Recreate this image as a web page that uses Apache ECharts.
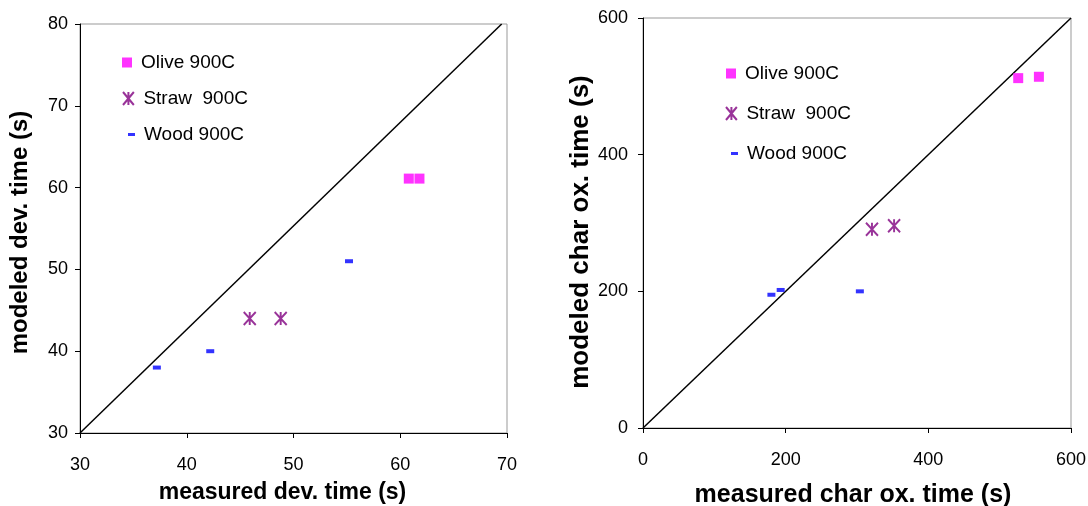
<!DOCTYPE html>
<html><head><meta charset="utf-8">
<script src="https://cdn.jsdelivr.net/npm/echarts@6/dist/echarts.min.js"></script>
<style>html,body{margin:0;padding:0;background:#fff}#c{width:1088px;height:506px}</style>
</head><body><div id="c"></div>
<script>
// Left chart: devolatilization time
const devOlive = [[60.8, 61.1], [61.8, 61.1]];
const devStraw = [[45.9, 44.0], [48.8, 44.0]];
const devWood  = [[37.2, 38.0], [42.2, 40.0], [55.2, 51.0]];
const devLine  = [[30, 30], [69.5, 80]];
const devXTicks = [30, 40, 50, 60, 70];
const devYTicks = [30, 40, 50, 60, 70, 80];
// Right chart: char oxidation time
const charOlive = [[526, 512], [555, 514]];
const charStraw = [[321, 291], [352, 296]];
const charWood  = [[180, 195], [193, 202], [304, 200]];
const charLine  = [[0, 0], [600, 600]];
const charTicks = [0, 200, 400, 600];

const names = ['Olive 900C', 'Straw  900C', 'Wood 900C'];
const FONT = 'Liberation Sans, Arial, sans-serif';
const ASTER = 'path://M0,0L10,12M10,0L0,12M5,0L5,12';

function axisCommon(min, max, interval, labelMargin, titleSize, titlePad) {
  return {
    type: 'value', min: min, max: max, interval: interval,
    axisLine: {show: true, onZero: false, lineStyle: {color: '#000', width: 1}},
    axisTick: {show: true, inside: false, length: 5, lineStyle: {color: '#000'}},
    splitLine: {show: false},
    axisLabel: {color: '#000', fontSize: 18, fontFamily: FONT, margin: labelMargin},
    nameLocation: 'middle',
    nameTextStyle: {color: '#000', fontSize: titleSize, fontWeight: 'bold', fontFamily: FONT, padding: titlePad}
  };
}

function seriesFor(gi, olive, straw, wood, line) {
  return [
    {type: 'line', xAxisIndex: gi, yAxisIndex: gi, data: line, symbol: 'none',
     lineStyle: {color: '#000', width: 1.5}, silent: true, z: 1},
    {name: names[0], type: 'scatter', xAxisIndex: gi, yAxisIndex: gi, data: olive,
     symbol: 'rect', symbolSize: [10, 10], itemStyle: {color: '#ff00ff'}, z: 3},
    {name: names[1], type: 'scatter', xAxisIndex: gi, yAxisIndex: gi, data: straw,
     symbol: ASTER, symbolSize: [12, 13],
     itemStyle: {color: 'rgba(0,0,0,0)', borderColor: '#800080', borderWidth: 2}, z: 3},
    {name: names[2], type: 'scatter', xAxisIndex: gi, yAxisIndex: gi, data: wood,
     symbol: 'rect', symbolSize: [8, 4], itemStyle: {color: '#0000ff'}, z: 3}
  ];
}

function legendItem(name, left, top, icon, w, h, style) {
  return {
    data: [{name: name, icon: icon, itemStyle: style}],
    left: left, top: top, padding: 0, itemWidth: w, itemHeight: h,
    selectedMode: false,
    textStyle: {color: '#000', fontSize: 19, fontFamily: FONT, padding: [0, 0, 0, 4]}
  };
}
const oliveStyle = {color: '#ff00ff'};
const strawStyle = {color: 'rgba(0,0,0,0)', borderColor: '#800080', borderWidth: 2};
const woodStyle = {color: '#0000ff'};

const xDev = axisCommon(30, 70, 10, 23, 23, [0, 22, 0, 0]);
xDev.name = 'measured dev. time (s)'; xDev.nameGap = 48; xDev.gridIndex = 0;
const yDev = axisCommon(30, 80, 10, 12, 24, [0, 8, 0, 0]);
yDev.name = 'modeled dev. time (s)'; yDev.nameGap = 48; yDev.gridIndex = 0;
const xChar = axisCommon(0, 600, 200, 23, 25, [0, 8, 0, 0]);
xChar.name = 'measured char ox. time (s)'; xChar.nameGap = 55; xChar.gridIndex = 1;
const yChar = axisCommon(0, 600, 200, 15, 26, [0, 18, 0, 0]);
yChar.name = 'modeled char ox. time (s)'; yChar.nameGap = 45; yChar.gridIndex = 1;

const chart = echarts.init(document.getElementById('c'), null, {renderer: 'canvas'});
chart.setOption({
  animation: false,
  backgroundColor: '#fff',
  grid: [
    {left: 80, top: 24, width: 427, height: 409, show: true, borderColor: '#999', borderWidth: 1,
     backgroundColor: 'transparent', containLabel: false, outerBoundsMode: 'none'},
    {left: 643, top: 18, width: 428, height: 410, show: true, borderColor: '#999', borderWidth: 1,
     backgroundColor: 'transparent', containLabel: false, outerBoundsMode: 'none'}
  ],
  xAxis: [xDev, xChar],
  yAxis: [yDev, yChar],
  legend: [
    legendItem(names[0], 122, 53, 'rect', 10, 10, oliveStyle),
    legendItem(names[1], 122, 89, ASTER, 12, 13, strawStyle),
    legendItem(names[2], 128, 125, 'rect', 7, 3, woodStyle),
    legendItem(names[0], 726, 64, 'rect', 10, 10, oliveStyle),
    legendItem(names[1], 725, 104, ASTER, 12, 13, strawStyle),
    legendItem(names[2], 731, 144, 'rect', 7, 3, woodStyle)
  ],
  series: seriesFor(0, devOlive, devStraw, devWood, devLine)
    .concat(seriesFor(1, charOlive, charStraw, charWood, charLine))
});
</script></body></html>
